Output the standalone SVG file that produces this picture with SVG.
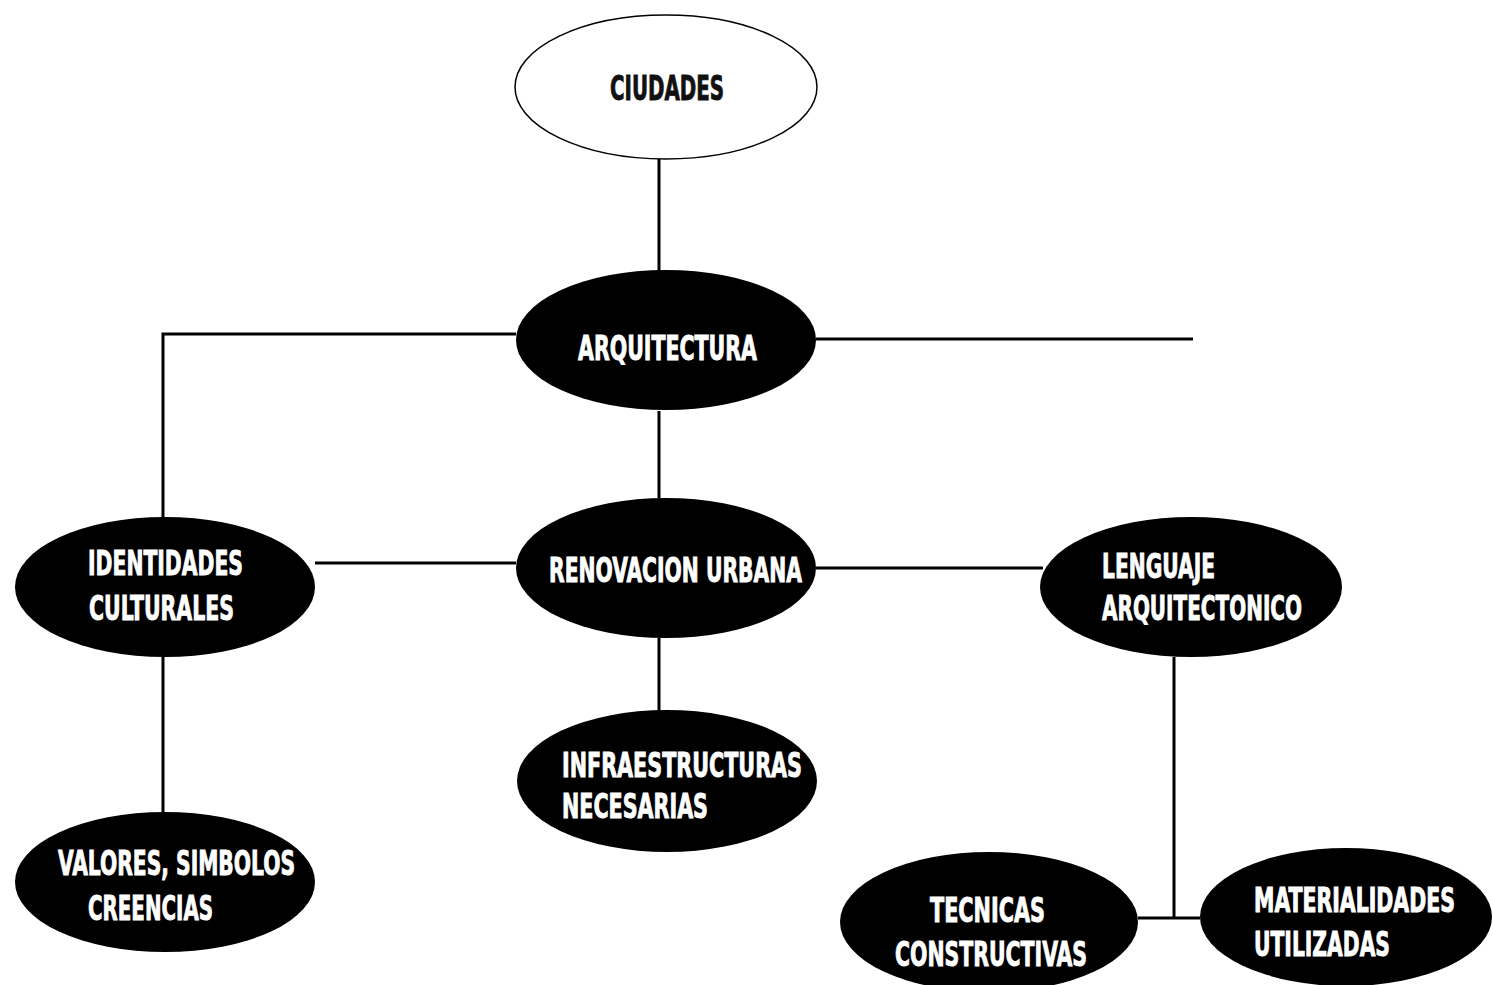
<svg xmlns="http://www.w3.org/2000/svg" width="1493" height="985" viewBox="0 0 1493 985">
<style>
.n{fill:#000}
.w{fill:#fff;stroke:#000;stroke-width:1.5}
.t{font-family:"DejaVu Sans Condensed","Liberation Sans Narrow","Liberation Sans",sans-serif;font-weight:bold;font-size:34px;fill:#fff;stroke:#fff;stroke-width:0.9}
.tb{fill:#111;stroke:#111}
.c{fill:none;stroke:#000;stroke-width:3}
</style>
<rect width="1493" height="985" fill="#fff"/>
<g id="connectors">
<path class="c" d="M659 159V272"/>
<path class="c" d="M516 334H163V518"/>
<path class="c" d="M816 339H1193"/>
<path class="c" d="M659 411V498"/>
<path class="c" d="M315 563H516"/>
<path class="c" d="M816 568H1043"/>
<path class="c" d="M659 638V711"/>
<path class="c" d="M163 657V812"/>
<path class="c" d="M1174 657V918"/>
<path class="c" d="M1138 918H1200"/>
</g>
<g id="ciudades">
<ellipse class="w" cx="666" cy="87" rx="151" ry="72"/>
<text class="t tb" x="610" y="100" textLength="114" lengthAdjust="spacingAndGlyphs">CIUDADES</text>
</g>
<g id="arquitectura">
<ellipse class="n" cx="666" cy="340" rx="150" ry="70"/>
<text class="t" x="578" y="360" textLength="179" lengthAdjust="spacingAndGlyphs">ARQUITECTURA</text>
</g>
<g id="identidades">
<ellipse class="n" cx="165" cy="587" rx="150" ry="70"/>
<text class="t" x="88" y="575" textLength="155" lengthAdjust="spacingAndGlyphs">IDENTIDADES</text>
<text class="t" x="89" y="620" textLength="145" lengthAdjust="spacingAndGlyphs">CULTURALES</text>
</g>
<g id="renovacion">
<ellipse class="n" cx="666" cy="568" rx="150" ry="70"/>
<text class="t" x="549" y="582" textLength="253" lengthAdjust="spacingAndGlyphs">RENOVACION URBANA</text>
</g>
<g id="lenguaje">
<ellipse class="n" cx="1191" cy="587" rx="151" ry="70"/>
<text class="t" x="1102" y="578" textLength="113" lengthAdjust="spacingAndGlyphs">LENGUAJE</text>
<text class="t" x="1102" y="620" textLength="200" lengthAdjust="spacingAndGlyphs">ARQUITECTONICO</text>
</g>
<g id="infraestructuras">
<ellipse class="n" cx="667" cy="781" rx="150" ry="71"/>
<text class="t" x="562" y="777" textLength="240" lengthAdjust="spacingAndGlyphs">INFRAESTRUCTURAS</text>
<text class="t" x="562" y="818" textLength="146" lengthAdjust="spacingAndGlyphs">NECESARIAS</text>
</g>
<g id="valores">
<ellipse class="n" cx="165" cy="882" rx="150" ry="70"/>
<text class="t" x="58" y="875" textLength="237" lengthAdjust="spacingAndGlyphs">VALORES, SIMBOLOS</text>
<text class="t" x="88" y="920" textLength="125" lengthAdjust="spacingAndGlyphs">CREENCIAS</text>
</g>
<g id="tecnicas">
<ellipse class="n" cx="989" cy="922" rx="149" ry="70"/>
<text class="t" x="930" y="922" textLength="115" lengthAdjust="spacingAndGlyphs">TECNICAS</text>
<text class="t" x="895" y="966" textLength="192" lengthAdjust="spacingAndGlyphs">CONSTRUCTIVAS</text>
</g>
<g id="materialidades">
<ellipse class="n" cx="1346" cy="917" rx="146" ry="69"/>
<text class="t" transform="translate(1254 912) scale(1 1.4)" x="0" y="0" style="font-size:24px;stroke-width:0.7" textLength="201" lengthAdjust="spacingAndGlyphs">MATERIALIDADES</text>
<text class="t" x="1254" y="956" textLength="136" lengthAdjust="spacingAndGlyphs">UTILIZADAS</text>
</g>
</svg>
